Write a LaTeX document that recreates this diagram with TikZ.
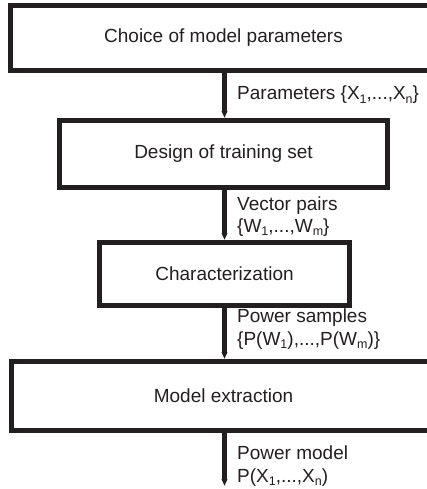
\documentclass[tikz,border=0pt]{standalone}
\usepackage{fontspec}
\setmainfont{Liberation Sans}
\usetikzlibrary{arrows.meta}
\definecolor{ink}{HTML}{231F20}
\newcommand{\lowsub}[1]{\raisebox{-0.32ex}{\fontsize{12.5}{12.5}\selectfont #1}}
\begin{document}
\begin{tikzpicture}[x=1pt, y=-1pt,
  stage/.style={draw=ink, line width=5pt, rectangle, inner sep=0pt,
    text=ink, font=\fontsize{19}{23}\selectfont},
  flow/.style={draw=ink, line width=5.5pt,
    -{Triangle[width=5.5pt, length=7pt]}},
  tag/.style={anchor=base west, align=left, inner sep=0pt, text=ink,
    font=\fontsize{19}{22.5}\selectfont}]
  \useasboundingbox (0,0) rectangle (427,489);
  \clip (0,0) rectangle (427,489);

  % process stages
  \node[stage, minimum width=426pt, minimum height=65pt] (choice) at (223.5,38) {Choice of model parameters};
  \node[stage, minimum width=328pt, minimum height=67pt] (design) at (223.5,154) {Design of training set};
  \node[stage, minimum width=250pt, minimum height=63pt] (charac) at (224.5,274) {Characterization};
  \node[stage, minimum width=424pt, minimum height=69pt] (extract) at (223.5,396) {Model extraction};
  \coordinate (out) at (224.5,486);

  % data passed between stages
  \draw[flow] (choice.south -| charac.center) -- (design.north -| charac.center);
  \draw[flow] (design.south -| charac.center) -- (charac.north);
  \draw[flow] (charac.south) -- (extract.north -| charac.center);
  \draw[flow] (extract.south -| charac.center) -- (out);

  % labels of the data flows (anchored on the last line's baseline)
  \node[tag] (lpar) at (237,100) {Parameters \{X\lowsub{1},...,X\lowsub{n}\}};
  \node[tag] (lvec) at (237,232.5) {Vector pairs\\\{W\lowsub{1},...,W\lowsub{m}\}};
  \node[tag] (lpow) at (237,345) {Power samples\\\{P(W\lowsub{1}),...,P(W\lowsub{m})\}};
  \node[tag] (lmod) at (237,482) {Power model\\P(X\lowsub{1},...,X\lowsub{n})};
\end{tikzpicture}
\end{document}
